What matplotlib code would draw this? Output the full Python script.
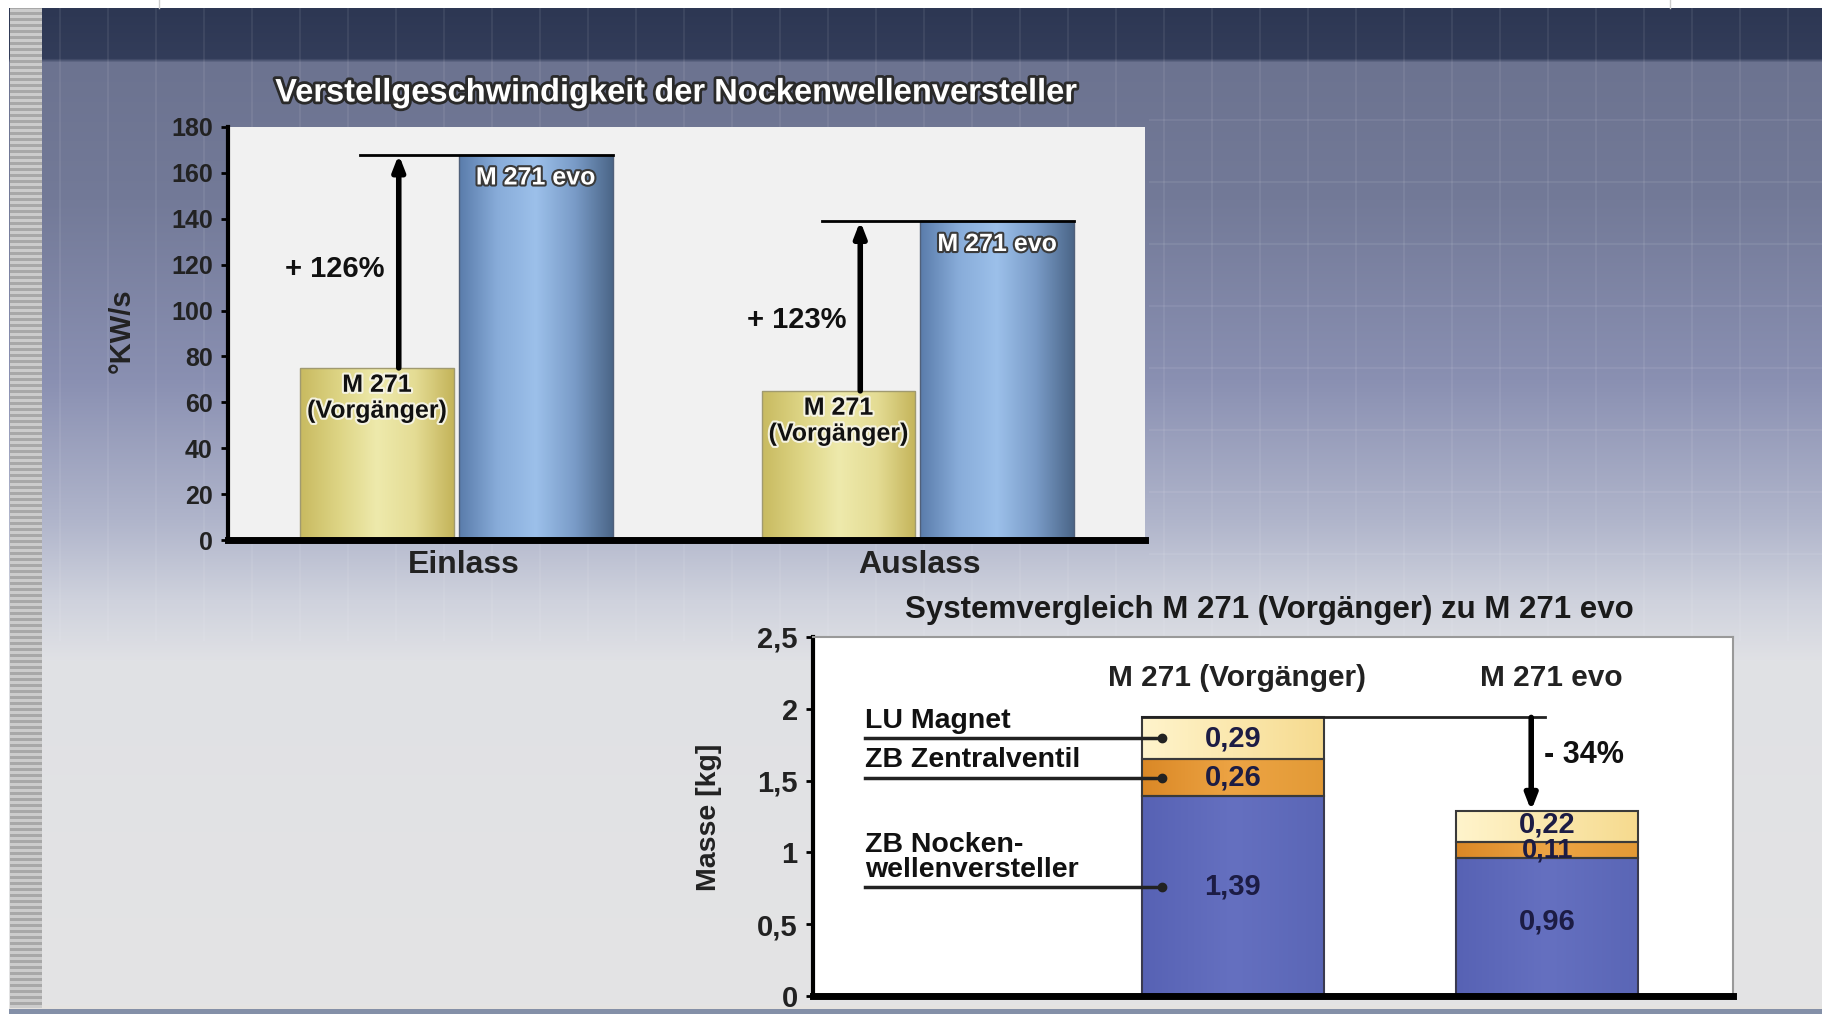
import numpy as np
import matplotlib
matplotlib.use('Agg')
from matplotlib import pyplot as plt
from matplotlib import patheffects as pe
from matplotlib.colors import LinearSegmentedColormap, to_rgb

plt.rcParams['font.family'] = ['Liberation Sans', 'DejaVu Sans']
plt.rcParams['font.weight'] = 'bold'

# --- data: top chart (adjustment speed, °KW/s)
sides = ['Einlass', 'Auslass']
speed_old = [75, 65]
speed_evo = [168, 139]
speed_gain = ['+ 126%', '+ 123%']

# --- data: bottom chart (mass, kg)
systems = ['M 271 (Vorgänger)', 'M 271 evo']
parts = ['ZB Nocken-\nwellenversteller', 'ZB Zentralventil', 'LU Magnet']
mass_nocken = [1.39, 0.96]
mass_zentral = [0.26, 0.11]
mass_magnet = [0.29, 0.22]
mass_ticks = [0, 0.5, 1, 1.5, 2, 2.5]
mass_ticklabels = ['0', '0,5', '1', '1,5', '2', '2,5']
mass_drop = '- 34%'

W, H = 1822, 1014
fig = plt.figure(figsize=(W / 100, H / 100), dpi=100)

# background: slide gradient
stops = [(0, '#ffffff'), (7, '#ffffff'), (8, '#2d3753'), (58, '#333d5a'),
         (62, '#6c7390'), (200, '#737a98'), (380, '#8a90b2'), (520, '#b0b5cb'),
         (600, '#cfd2dd'), (660, '#e0e1e5'), (1004, '#e4e4e4'), (1008, '#e6e3df'),
         (1009, '#8490a8'), (1014, '#8490a8')]
ys = np.arange(H)
cols = np.array([to_rgb(c) for _, c in stops])
pos = [p for p, _ in stops]
grad = np.stack([np.interp(ys, pos, cols[:, k]) for k in range(3)], axis=1)
img = np.repeat(grad[:, None, :], W, axis=1)
img[:, :9] = 1.0
stripe = np.where((ys // 3) % 2 == 0, 0.66, 0.80)
img[8:1008, 10:42] = stripe[8:1008, None, None]
bg = fig.add_axes([0, 0, 1, 1], zorder=-10)
bg.imshow(img, extent=[0, W, H, 0], aspect='auto', interpolation='nearest')
for gx in range(60, W, 48):
    bg.plot([gx, gx], [8, 640], color='white', alpha=0.07, lw=1.5)
for gy in range(120, 560, 62):
    bg.plot([1150, W], [gy, gy], color='white', alpha=0.07, lw=1.5)
bg.plot([159, 159], [0, 8], color='#cccccc', lw=1)
bg.plot([1670, 1670], [0, 8], color='#cccccc', lw=1)
bg.set_xlim(0, W)
bg.set_ylim(H, 0)
bg.axis('off')


def shade(ax, bars, colors):
    cm = LinearSegmentedColormap.from_list('shade', colors)
    g = np.linspace(0, 1, 256).reshape(1, -1)
    for b in bars:
        x, y, w, h = b.get_x(), b.get_y(), b.get_width(), b.get_height()
        im = ax.imshow(g, cmap=cm, extent=[x, x + w, y, y + h], aspect='auto',
                       origin='lower', zorder=b.get_zorder() - 0.1)
        im.set_clip_path(b)
        b.set_facecolor('none')


white_edge = [pe.withStroke(linewidth=3, foreground='#3a3a3a')]
light_edge = [pe.withStroke(linewidth=3, foreground='#f4f2e0')]

# ---------------- top chart
ax1 = fig.add_axes([228 / W, 1 - 540 / H, 917 / W, 413 / H])
ax1.set_facecolor('#f1f1f1')
x = np.arange(len(sides))
bw = 0.333
b_old = ax1.bar(x - 0.172, speed_old, bw, edgecolor='#a09a70', lw=1, zorder=2)
b_evo = ax1.bar(x + 0.172, speed_evo, bw, edgecolor='#50607a', lw=1, zorder=2)
shade(ax1, b_old, ['#c8ba60', '#ddd484', '#eeeaac', '#e4dc94', '#c4b45a'])
shade(ax1, b_evo, ['#5a7cab', '#88acd9', '#9cc0ea', '#7a9cc8', '#4b6688'])

gain_y = [118, 96]
for i in range(len(sides)):
    ax_x = x[i] - 0.125
    ax1.plot([x[i] - 0.208, x[i] + 0.339], [speed_evo[i]] * 2, color='black', lw=2, zorder=3)
    ax1.annotate('', xy=(ax_x, speed_evo[i]), xytext=(ax_x, speed_old[i]),
                 arrowprops=dict(arrowstyle='-|>,head_width=0.35,head_length=0.9',
                                 lw=4, color='black', shrinkA=0, shrinkB=0), zorder=4)
    ax1.text(x[i] - 0.263, gain_y[i], speed_gain[i],
             ha='center', va='center', fontsize=21, color='#111')
    ax1.text(x[i] + 0.172, speed_evo[i] - 10, 'M 271 evo', ha='center', va='center',
             fontsize=18, color='white', path_effects=white_edge, zorder=5)
    ax1.text(x[i] - 0.172, speed_old[i] - 13, 'M 271\n(Vorgänger)', ha='center', va='center',
             fontsize=18, color='#111', linespacing=1.1, path_effects=light_edge, zorder=5)

ax1.set_xlim(-0.495, 1.492)
ax1.set_ylim(0, 180)
ax1.set_yticks(range(0, 181, 20))
ax1.set_xticks(x + np.array([0.016, 0.004]))
ax1.set_xticklabels(sides, fontsize=23, color='#222')
ax1.tick_params(axis='y', labelsize=18, labelcolor='#222', length=5, width=2, pad=6)
ax1.tick_params(axis='x', length=0, pad=7)
for s in ['top', 'right']:
    ax1.spines[s].set_visible(False)
ax1.spines['left'].set_linewidth(3)
ax1.spines['bottom'].set_linewidth(5)

fig.text(676 / W, 1 - 93 / H, 'Verstellgeschwindigkeit der Nockenwellenversteller',
         ha='center', va='center', fontsize=23.5, color='white',
         path_effects=[pe.withStroke(linewidth=4, foreground='#2a2a2a')])
fig.text(122 / W, 1 - 331 / H, '°KW/s', rotation=90, ha='center', va='center',
         fontsize=21, color='#222')

# ---------------- bottom chart
ax2 = fig.add_axes([813 / W, 1 - 996 / H, 920 / W, 359 / H])
ax2.set_facecolor('white')
x2 = np.arange(len(systems))
bw2 = 0.58
base2 = np.array(mass_nocken)
mid2 = base2 + np.array(mass_zentral)
s1 = ax2.bar(x2, mass_nocken, bw2, edgecolor='#3a3a50', lw=1.5, zorder=2)
s2 = ax2.bar(x2, mass_zentral, bw2, bottom=base2, edgecolor='#3a3a3a', lw=1.5, zorder=2)
s3 = ax2.bar(x2, mass_magnet, bw2, bottom=mid2, edgecolor='#3a3a3a', lw=1.5, zorder=2)
shade(ax2, s1, ['#5762b4', '#6570c0', '#5a66b6'])
shade(ax2, s2, ['#da8826', '#eda444', '#e29a36'])
shade(ax2, s3, ['#fff4cc', '#fbe8ae', '#f6da8e'])

val_color = '#1c1c44'
magnet_lbl_y = [mid2[0] + mass_magnet[0] / 2, mid2[1] + mass_magnet[1] / 2 + 0.015]
for i in range(len(systems)):
    ax2.text(x2[i], magnet_lbl_y[i], f'{mass_magnet[i]:.2f}'.replace('.', ','),
             ha='center', va='center', fontsize=21, color=val_color, zorder=5)
    ax2.text(x2[i], base2[i] + mass_zentral[i] / 2, f'{mass_zentral[i]:.2f}'.replace('.', ','),
             ha='center', va='center', fontsize=21 if i == 0 else 19.5, color=val_color, zorder=5)
y_bottom_lbl = [0.76, 0.52]
for i in range(len(systems)):
    ax2.text(x2[i], y_bottom_lbl[i], f'{mass_nocken[i]:.2f}'.replace('.', ','),
             ha='center', va='center', fontsize=21, color=val_color, zorder=5)
    ax2.text(x2[i] + 0.013, 2.217, systems[i], ha='center', va='center', fontsize=21.5, color='#222')

# leader lines with part names
lead_y = [0.76, base2[0] + mass_zentral[0] / 2, mid2[0] + mass_magnet[0] / 2]
name_y = [0.963, 1.642, 1.917]
for name, ly, ny in zip(parts, lead_y, name_y):
    ax2.plot([-1.17, -0.227], [ly, ly], color='#222', lw=2.5, zorder=4)
    ax2.plot([-0.227], [ly], 'o', color='#222', ms=6, zorder=4)
    ax2.text(-1.17, ny, name, ha='left', va='center', fontsize=20.5, color='#111',
             linespacing=0.95)

total_old = mid2[0] + mass_magnet[0]
total_evo = mid2[1] + mass_magnet[1]
ax2.plot([-0.29, 0.993], [total_old, total_old], color='#222', lw=2, zorder=3)
ax2.annotate('', xy=(0.949, total_evo), xytext=(0.949, total_old),
             arrowprops=dict(arrowstyle='-|>,head_width=0.35,head_length=0.9',
                             lw=4, color='black', shrinkA=0, shrinkB=0), zorder=4)
ax2.text(0.99, 1.675, mass_drop, ha='left', va='center', fontsize=22, color='#111')

ax2.set_xlim(-1.336, 1.591)
ax2.set_ylim(0, 2.5)
ax2.set_yticks(mass_ticks)
ax2.set_yticklabels(mass_ticklabels)
ax2.set_xticks([])
ax2.tick_params(axis='y', labelsize=21, labelcolor='#222', length=5, width=2, pad=6)
for s in ['top', 'right']:
    ax2.spines[s].set_color('#999999')
    ax2.spines[s].set_linewidth(1.5)
ax2.spines['left'].set_linewidth(3)
ax2.spines['bottom'].set_linewidth(5)

fig.text(1269 / W, 1 - 610 / H, 'Systemvergleich M 271 (Vorgänger) zu M 271 evo',
         ha='center', va='center', fontsize=22.5, color='#1a1a1a')
fig.text(709 / W, 1 - 817 / H, 'Masse [kg]', rotation=90, ha='center', va='center',
         fontsize=20.5, color='#222')

fig.savefig('out.png', dpi=100)
